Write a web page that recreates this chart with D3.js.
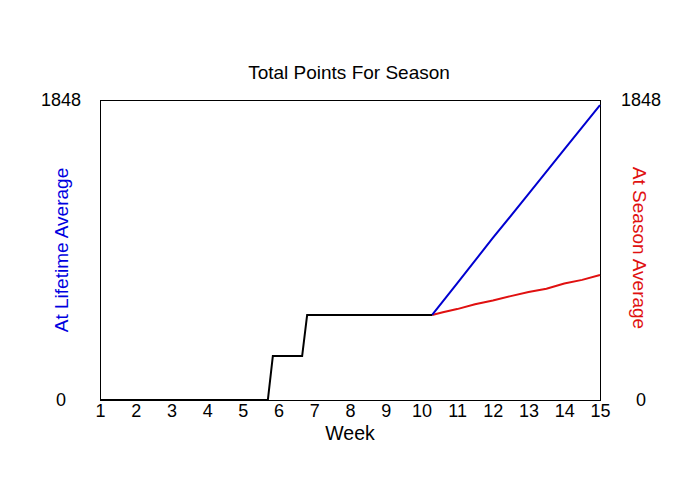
<!DOCTYPE html>
<html>
<head>
<meta charset="utf-8">
<script src="https://cdn.jsdelivr.net/npm/d3@7"></script>
<style>
  body { margin: 0; background: #fff; }
  text { font-family: "Liberation Sans", Arial, sans-serif; }
</style>
</head>
<body>
<script>
// data
let weekTicks = [1, 2, 3, 4, 5, 6, 7, 8, 9, 10, 11, 12, 13, 14, 15];
let yTicks = [0, 1848];

let actualWeeks = [1, 5.7, 5.84, 6.66, 6.8, 10.3];
let actualPoints = [0, 0, 271, 271, 524, 524];

let lifetimeWeeks = [10.3, 11, 12, 13, 14, 15];
let lifetimePoints = [524, 719, 998, 1269, 1544, 1817];

let seasonWeeks = [10.3, 10.6, 11, 11.5, 12, 12.5, 13, 13.5, 14, 14.5, 15];
let seasonPoints = [524, 540, 560, 590, 613, 640, 665, 685, 718, 740, 770];

let margin = {top: 100, left: 100, bottom: 100, right: 100};
let width = 700 - margin.left - margin.right;
let height = 500 - margin.top - margin.bottom;

let svg = d3.select("body").append("svg")
  .attr("width", 700)
  .attr("height", 500);

let g = svg.append("g")
  .attr("transform", "translate(" + margin.left + "," + margin.top + ")");

let x = d3.scaleLinear().domain([1, 15]).range([0, width]);
let y = d3.scaleLinear().domain([0, 1848]).range([height, 0]);

// frame
g.append("rect")
  .attr("x", 0.5)
  .attr("y", 0.5)
  .attr("width", width)
  .attr("height", height)
  .attr("fill", "none")
  .attr("stroke", "#000")
  .attr("stroke-width", 1)
  .attr("shape-rendering", "crispEdges");

// x axis labels
let xAxis = g.append("g")
  .attr("transform", "translate(0," + height + ")")
  .call(d3.axisBottom(x).tickValues(weekTicks).tickSize(0).tickPadding(4).tickFormat(d3.format("d")));
xAxis.select(".domain").remove();
xAxis.selectAll("text")
  .attr("font-size", 18)
  .attr("fill", "#000")
  .style("font-family", "Liberation Sans, Arial, sans-serif");

// y axis labels on both sides
function yLabels(side) {
  let xpos = side === "left" ? -39 : width + 41;
  g.append("g").selectAll("text")
    .data(yTicks)
    .enter()
    .append("text")
      .attr("x", xpos)
      .attr("y", function(d) { return y(d); })
      .attr("dy", "0.35em")
      .attr("text-anchor", "middle")
      .attr("font-size", 18)
      .attr("fill", "#000")
      .text(function(d) { return d; });
}
yLabels("left");
yLabels("right");

// titles
svg.append("text")
  .attr("x", 349)
  .attr("y", 79)
  .attr("text-anchor", "middle")
  .attr("font-size", 19)
  .text("Total Points For Season");

svg.append("text")
  .attr("x", 350)
  .attr("y", 440)
  .attr("text-anchor", "middle")
  .attr("font-size", 19.5)
  .text("Week");

svg.append("text")
  .attr("transform", "translate(61,250) rotate(-90)")
  .attr("dy", "0.35em")
  .attr("text-anchor", "middle")
  .attr("font-size", 19)
  .attr("fill", "#0000e0")
  .text("At Lifetime Average");

svg.append("text")
  .attr("transform", "translate(640,248) rotate(90)")
  .attr("dy", "0.35em")
  .attr("text-anchor", "middle")
  .attr("font-size", 19)
  .attr("fill", "#e01010")
  .text("At Season Average");

// lines
let line = d3.line()
  .x(function(d) { return x(d[0]); })
  .y(function(d) { return y(d[1]); });

function drawLine(weeks, values, color) {
  g.append("path")
    .datum(d3.zip(weeks, values))
    .attr("fill", "none")
    .attr("stroke", color)
    .attr("stroke-width", 2)
    .attr("d", line);
}

drawLine(seasonWeeks, seasonPoints, "#e01010");
drawLine(lifetimeWeeks, lifetimePoints, "#0000d0");
drawLine(actualWeeks, actualPoints, "#000");
</script>
</body>
</html>
